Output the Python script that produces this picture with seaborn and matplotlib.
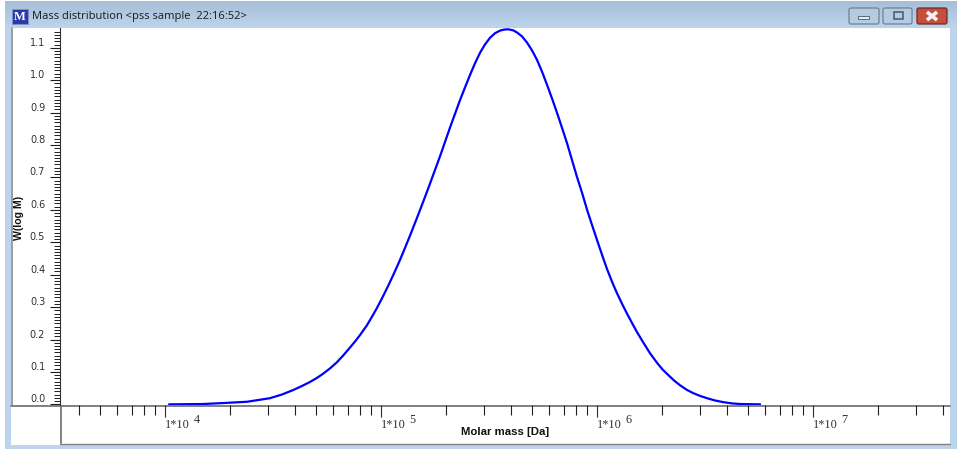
import numpy as np
import pandas as pd
import seaborn as sns
import matplotlib
matplotlib.use('Agg')
import matplotlib.pyplot as plt
from matplotlib.patches import Rectangle, FancyBboxPatch

# values
log_mass = [4.019, 4.176, 4.269, 4.380, 4.486, 4.540, 4.593, 4.632, 4.671, 4.702,
            4.731, 4.764, 4.796, 4.824, 4.856, 4.880, 4.903, 4.934, 4.958, 4.981,
            5.009, 5.032, 5.056, 5.085, 5.102, 5.134, 5.167, 5.193, 5.218, 5.245,
            5.273, 5.296, 5.319, 5.343, 5.366, 5.389, 5.412, 5.435, 5.458, 5.481,
            5.505, 5.528, 5.551, 5.569, 5.588, 5.611, 5.630, 5.653, 5.676, 5.699,
            5.722, 5.745, 5.769, 5.792, 5.815, 5.838, 5.861, 5.884, 5.907, 5.931,
            5.954, 5.977, 6.000, 6.028, 6.046, 6.069, 6.091, 6.116, 6.138, 6.162,
            6.185, 6.213, 6.245, 6.278, 6.304, 6.329, 6.356, 6.384, 6.415, 6.444,
            6.477, 6.509, 6.546, 6.583, 6.624, 6.662, 6.755]
w_log_m = [0.000, 0.001, 0.004, 0.008, 0.019, 0.030, 0.044, 0.056, 0.069, 0.081,
           0.094, 0.111, 0.130, 0.150, 0.175, 0.194, 0.214, 0.243, 0.270, 0.297,
           0.333, 0.364, 0.398, 0.441, 0.468, 0.520, 0.576, 0.621, 0.665, 0.714,
           0.765, 0.809, 0.853, 0.897, 0.939, 0.978, 1.016, 1.052, 1.084, 1.110,
           1.131, 1.145, 1.153, 1.156, 1.157, 1.154, 1.147, 1.135, 1.116, 1.092,
           1.063, 1.027, 0.985, 0.943, 0.899, 0.853, 0.806, 0.754, 0.702, 0.652,
           0.600, 0.553, 0.507, 0.452, 0.418, 0.379, 0.345, 0.310, 0.281, 0.251,
           0.223, 0.192, 0.158, 0.128, 0.107, 0.091, 0.074, 0.059, 0.045, 0.035,
           0.026, 0.019, 0.012, 0.007, 0.003, 0.001, 0.000]

major_x = [1e4, 1e5, 1e6, 1e7]
major_x_labels = ['1*10', '1*10', '1*10', '1*10']
exponents = ['4', '5', '6', '7']
minor_x = [4e3, 5e3, 6e3, 7e3, 8e3, 9e3,
           2e4, 3e4, 4e4, 5e4, 6e4, 7e4, 8e4, 9e4,
           2e5, 3e5, 4e5, 5e5, 6e5, 7e5, 8e5, 9e5,
           2e6, 3e6, 4e6, 5e6, 6e6, 7e6, 8e6, 9e6,
           2e7, 3e7, 4e7]
major_y = [0.0, 0.1, 0.2, 0.3, 0.4, 0.5, 0.6, 0.7, 0.8, 0.9, 1.0, 1.1]
title = 'Mass distribution <pss sample  22:16:52>'

sns.set_theme(style='white')
plt.rcParams['font.family'] = ['Liberation Sans', 'DejaVu Sans']

W, H = 957, 453
fig = plt.figure(figsize=(W / 100, H / 100), dpi=100, facecolor='white')

# window chrome, in pixel coordinates
bg = fig.add_axes([0, 0, 1, 1], zorder=0)
bg.set_xlim(0, W)
bg.set_ylim(H, 0)
bg.axis('off')
band = '#bdd5ec'
bg.add_patch(Rectangle((5, 1), W - 5, 448, fc=band, ec='none'))
grad = np.linspace(0, 1, 28).reshape(-1, 1)
bar = np.array([0xa6, 0xbe, 0xd6]) / 255 * (1 - grad[..., None]) + np.array([0xbd, 0xd5, 0xec]) / 255 * grad[..., None]
bg.imshow(bar, extent=(5, W, 28, 1), aspect='auto', zorder=1)
bg.set_xlim(0, W)
bg.set_ylim(H, 0)
bg.add_patch(Rectangle((11, 28), 939, 417, fc='white', ec='none', zorder=2))

# title bar
bg.add_patch(Rectangle((12, 9), 16, 15, fc='#2a3aa8', ec='#8090c8', lw=0.7, zorder=3))
bg.text(20, 16.5, 'M', color='white', family='Liberation Serif', weight='bold', size=9,
        ha='center', va='center', zorder=4)
bg.text(32, 17, title, color='#1a1a1a', family='Open Sans', size=8.05, ha='left', va='center', zorder=4)
for x0, x1, col, edge in [(849, 879, '#b4cbe2', '#6f8194'), (883, 912, '#b4cbe2', '#6f8194'),
                          (917, 947, '#c4503c', '#6b2a2a')]:
    bg.add_patch(FancyBboxPatch((x0, 8), x1 - x0, 16, boxstyle='round,pad=0,rounding_size=2',
                                fc=col, ec=edge, lw=0.9, zorder=3))
bg.add_patch(Rectangle((858, 16), 11, 3, fc='#e8eef4', ec='#5a6878', lw=0.7, zorder=4))
bg.add_patch(Rectangle((894, 12), 9, 7, fc='none', ec='#4a5868', lw=1.1, zorder=4))
bg.plot([927, 937], [12, 20], color='#f2f2f2', lw=2.6, solid_capstyle='butt', zorder=4)
bg.plot([937, 927], [12, 20], color='#f2f2f2', lw=2.6, solid_capstyle='butt', zorder=4)

# frame of axis panels
gray = '#808080'
bg.plot([11.5, 11.5], [28, 405], color=gray, lw=1.1, zorder=3)
bg.plot([60.5, 60.5], [405, 443], color=gray, lw=1.4, zorder=3)
bg.plot([60, 950], [443.5, 443.5], color=gray, lw=1.0, zorder=3)

# main plot
ax = fig.add_axes([60 / W, 1 - 405 / H, 890 / W, 377 / H], zorder=2)
df = pd.DataFrame({'mass': 10 ** np.array(log_mass), 'w': w_log_m})
ax.set_xscale('log')
sns.lineplot(data=df, x='mass', y='w', color='#0000ff', lw=1.6, ax=ax, errorbar=None)
ax.set_xlim(10 ** 3.514, 10 ** 7.634)
ax.set_ylim(-0.002, 1.161)
ax.set_xlabel('')
ax.set_ylabel('')

for s in ['top', 'right']:
    ax.spines[s].set_visible(False)
ax.spines['left'].set_color('#303030')
ax.spines['left'].set_linewidth(0.8)
ax.spines['bottom'].set_visible(False)
bg.plot([11, 950], [405.5, 405.5], color=gray, lw=1.4, zorder=3)

ax.set_xticks(major_x)
ax.set_xticklabels(major_x_labels, family='Liberation Serif', size=8.8, color='#303030', ha='left')
ax.set_xticks(minor_x, minor=True)
ax.set_xticklabels([], minor=True)
ax.tick_params(axis='x', which='major', bottom=True, length=8.7, width=0.8, color='#303030', pad=1.5)
ax.tick_params(axis='x', which='minor', bottom=True, length=7.2, width=0.8, color='#202020')

ax.set_yticks(major_y)
ax.set_yticklabels([f'{v:.1f}' for v in major_y], family='DejaVu Sans', size=7, color='#303030')
for lab in ax.get_yticklabels():
    lab.set_va('bottom')
ax.set_yticks(np.arange(0, 116) / 100, minor=True)
ax.tick_params(axis='y', which='major', left=True, length=7.2, width=0.8, color='#202020', pad=3.5)
ax.tick_params(axis='y', which='minor', left=True, length=4.5, width=0.7, color='#202020')

for m, e in zip(major_x, exponents):
    ax.annotate(e, xy=(m, 0), xycoords=('data', 'axes fraction'), xytext=(20.5, -10.5), textcoords='offset points',
                family='Liberation Serif', size=8.8, color='#303030', ha='left', va='center',
                annotation_clip=False)

fig.text(505.5 / W, 1 - 432 / H, 'Molar mass [Da]', weight='bold', size=8.2, color='#111111',
         ha='center', va='center', zorder=3)
fig.text(18.5 / W, 1 - 218 / H, 'W(log M)', weight='bold', size=7.6, color='#111111', rotation=90,
         ha='center', va='center', zorder=3)

fig.savefig('out.png', dpi=100)
